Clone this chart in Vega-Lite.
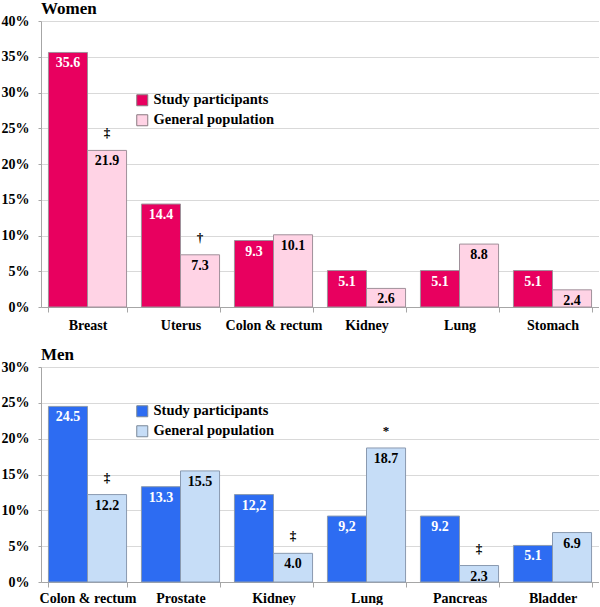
{
  "$schema": "https://vega.github.io/schema/vega-lite/v6.json",
  "padding": {"left": 1, "top": 0, "right": 0, "bottom": 0},
  "spacing": 14,
  "datasets": {
    "women": [
      {"site": "Breast", "group": "Study participants", "value": 35.6, "label": "35.6", "sym": ""},
      {"site": "Breast", "group": "General population", "value": 21.9, "label": "21.9", "sym": "‡"},
      {"site": "Uterus", "group": "Study participants", "value": 14.4, "label": "14.4", "sym": ""},
      {"site": "Uterus", "group": "General population", "value": 7.3, "label": "7.3", "sym": "†"},
      {"site": "Colon & rectum", "group": "Study participants", "value": 9.3, "label": "9.3", "sym": ""},
      {"site": "Colon & rectum", "group": "General population", "value": 10.1, "label": "10.1", "sym": ""},
      {"site": "Kidney", "group": "Study participants", "value": 5.1, "label": "5.1", "sym": ""},
      {"site": "Kidney", "group": "General population", "value": 2.6, "label": "2.6", "sym": ""},
      {"site": "Lung", "group": "Study participants", "value": 5.1, "label": "5.1", "sym": ""},
      {"site": "Lung", "group": "General population", "value": 8.8, "label": "8.8", "sym": ""},
      {"site": "Stomach", "group": "Study participants", "value": 5.1, "label": "5.1", "sym": ""},
      {"site": "Stomach", "group": "General population", "value": 2.4, "label": "2.4", "sym": ""}
    ],
    "men": [
      {"site": "Colon & rectum", "group": "Study participants", "value": 24.5, "label": "24.5", "sym": ""},
      {"site": "Colon & rectum", "group": "General population", "value": 12.2, "label": "12.2", "sym": "‡"},
      {"site": "Prostate", "group": "Study participants", "value": 13.3, "label": "13.3", "sym": ""},
      {"site": "Prostate", "group": "General population", "value": 15.5, "label": "15.5", "sym": ""},
      {"site": "Kidney", "group": "Study participants", "value": 12.2, "label": "12,2", "sym": ""},
      {"site": "Kidney", "group": "General population", "value": 4.0, "label": "4.0", "sym": "‡"},
      {"site": "Lung", "group": "Study participants", "value": 9.2, "label": "9,2", "sym": ""},
      {"site": "Lung", "group": "General population", "value": 18.7, "label": "18.7", "sym": "*"},
      {"site": "Pancreas", "group": "Study participants", "value": 9.2, "label": "9.2", "sym": ""},
      {"site": "Pancreas", "group": "General population", "value": 2.3, "label": "2.3", "sym": "‡"},
      {"site": "Bladder", "group": "Study participants", "value": 5.1, "label": "5.1", "sym": ""},
      {"site": "Bladder", "group": "General population", "value": 6.9, "label": "6.9", "sym": ""}
    ]
  },
  "vconcat": [
    {
      "title": {"text": "Women", "anchor": "start", "frame": "group", "fontSize": 17, "font": "Liberation Serif", "fontWeight": "bold", "offset": -4, "color": "black"},
      "width": 558,
      "height": 286,
      "data": {"name": "women"},
      "encoding": {
        "x": {"field": "site", "type": "nominal", "sort": null, "title": null,
              "scale": {"paddingInner": 0.16, "paddingOuter": 0.08},
              "axis": {"labelAngle": 0, "tickBand": "extent", "labelPadding": 6, "tickSize": 5}},
        "xOffset": {"field": "group", "type": "nominal", "sort": ["Study participants", "General population"], "scale": {"paddingInner": 0, "paddingOuter": 0}},
        "y": {"field": "value", "type": "quantitative", "title": null,
              "scale": {"domain": [0, 40]},
              "axis": {"values": [0, 5, 10, 15, 20, 25, 30, 35, 40], "labelExpr": "datum.value + '%'", "grid": true}}
      },
      "layer": [
        {
          "mark": {"type": "bar", "stroke": "#a0909a", "strokeWidth": 1},
          "encoding": {
            "color": {"field": "group", "type": "nominal", "sort": ["Study participants", "General population"],
                      "scale": {"domain": ["Study participants", "General population"], "range": ["#e8005f", "#ffd3e5"]},
                      "legend": {"title": null, "orient": "none", "legendX": 94, "legendY": 72, "symbolType": "square", "symbolSize": 121, "symbolStrokeColor": "#8a7a80", "symbolStrokeWidth": 1, "labelFont": "Liberation Serif", "labelFontWeight": "bold", "labelFontSize": 14.5, "labelColor": "black", "labelOffset": 4, "rowPadding": 4, "padding": 0}}
          }
        },
        {
          "mark": {"type": "text", "baseline": "top", "dy": 4, "font": "Liberation Serif", "fontWeight": "bold", "fontSize": 14},
          "encoding": {
            "text": {"field": "label"},
            "color": {"condition": {"test": "datum.group === 'Study participants'", "value": "white"}, "value": "black"}
          }
        },
        {
          "mark": {"type": "text", "baseline": "bottom", "dy": -10, "font": "Liberation Serif", "fontWeight": "bold", "fontSize": 13, "color": "black"},
          "encoding": {"text": {"field": "sym"}}
        }
      ]
    },
    {
      "title": {"text": "Men", "anchor": "start", "frame": "group", "fontSize": 17, "font": "Liberation Serif", "fontWeight": "bold", "offset": -4, "color": "black"},
      "width": 558,
      "height": 215,
      "data": {"name": "men"},
      "encoding": {
        "x": {"field": "site", "type": "nominal", "sort": null, "title": null,
              "scale": {"paddingInner": 0.16, "paddingOuter": 0.08},
              "axis": {"labelAngle": 0, "tickBand": "extent", "labelPadding": 4, "tickSize": 5}},
        "xOffset": {"field": "group", "type": "nominal", "sort": ["Study participants", "General population"], "scale": {"paddingInner": 0, "paddingOuter": 0}},
        "y": {"field": "value", "type": "quantitative", "title": null,
              "scale": {"domain": [0, 30]},
              "axis": {"values": [0, 5, 10, 15, 20, 25, 30], "labelExpr": "datum.value + '%'", "grid": true}}
      },
      "layer": [
        {
          "mark": {"type": "bar", "stroke": "#8a9ab0", "strokeWidth": 1},
          "encoding": {
            "color": {"field": "group", "type": "nominal", "sort": ["Study participants", "General population"],
                      "scale": {"domain": ["Study participants", "General population"], "range": ["#2d6cf2", "#c6ddf7"]},
                      "legend": {"title": null, "orient": "none", "legendX": 94, "legendY": 37, "symbolType": "square", "symbolSize": 121, "symbolStrokeColor": "#7a8898", "symbolStrokeWidth": 1, "labelFont": "Liberation Serif", "labelFontWeight": "bold", "labelFontSize": 14.5, "labelColor": "black", "labelOffset": 4, "rowPadding": 4, "padding": 0}}
          }
        },
        {
          "mark": {"type": "text", "baseline": "top", "dy": 4, "font": "Liberation Serif", "fontWeight": "bold", "fontSize": 14},
          "encoding": {
            "text": {"field": "label"},
            "color": {"condition": {"test": "datum.group === 'Study participants'", "value": "white"}, "value": "black"}
          }
        },
        {
          "mark": {"type": "text", "baseline": "bottom", "dy": -10, "font": "Liberation Serif", "fontWeight": "bold", "fontSize": 13, "color": "black"},
          "encoding": {"text": {"field": "sym"}}
        }
      ]
    }
  ],
  "resolve": {"scale": {"color": "independent"}},
  "config": {
    "view": {"stroke": null},
    "font": "Liberation Serif",
    "axis": {"labelFont": "Liberation Serif", "labelFontWeight": "bold", "labelFontSize": 14, "labelColor": "black",
             "domainColor": "#a6a6a6", "tickColor": "#a6a6a6", "gridColor": "#d9d9d9", "labelPadding": 9},
    "axisY": {"tickSize": 3, "domain": true},
    "axisX": {"grid": false}
  }
}
